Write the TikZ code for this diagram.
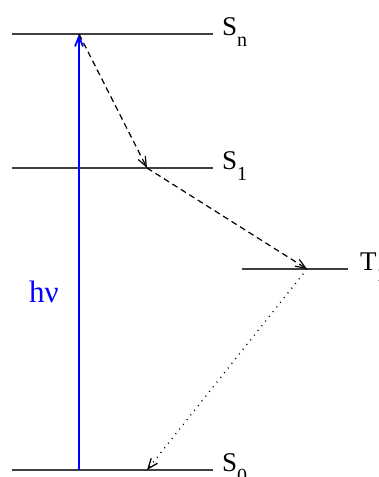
\documentclass[tikz,border=0pt]{standalone}
\usepackage{fontspec}
\setmainfont{Liberation Serif}
\usetikzlibrary{arrows.meta}
\newcommand{\lvlname}[2]{#1\raisebox{-11pt}{\fontsize{20}{20}\selectfont #2}}
\tikzset{
  level/.style   ={draw=black!75,line width=1.1pt},
  lvlbl/.style   ={font=\fontsize{27}{30}\selectfont,anchor=base west,inner sep=0pt},
  absorb/.style  ={-{Straight Barb[length=10pt,width=8pt]},draw=blue,line width=1.8pt},
  nonrad/.style  ={-{Straight Barb[length=10pt,width=8pt]},draw=black,line width=1.2pt,
                   dash pattern=on 6pt off 4pt},
  radiate/.style ={-{Straight Barb[length=10pt,width=8pt]},draw=black,line width=1.3pt,
                   dash pattern=on 1pt off 5pt},
}
\begin{document}
\begin{tikzpicture}[x=1pt,y=-1pt]
\useasboundingbox (0,0) rectangle (379,477);
% energy levels
\draw[level] (12,34) -- (213,34);
\draw[level] (12,168) -- (213,168);
\draw[level] (242,269) -- (348,269);
\draw[level] (12,470) -- (213,470);
\node[lvlbl] (snlab) at (222,35) {\lvlname{S}{n}};
\node[lvlbl] (s1lab) at (222,169) {\lvlname{S}{1}};
\node[lvlbl] (t1lab) at (360,270) {\lvlname{T}{1}};
\node[lvlbl] (s0lab) at (222,471) {\lvlname{S}{0}};
% transition points
\coordinate (g)  at (79,470);
\coordinate (sn) at (79,34);
\coordinate (s1) at (147,168);
\coordinate (t1) at (307,269);
\coordinate (s0) at (147,470);
\draw[absorb] (g) -- (sn);
\node[lvlbl,text=blue,font=\fontsize{31}{33}\selectfont] (hnu) at (29,302) {hν};
\draw[nonrad] (sn) -- (s1);
\draw[nonrad] (s1) -- (t1);
\draw[radiate] (t1) -- (s0);
\end{tikzpicture}
\end{document}
